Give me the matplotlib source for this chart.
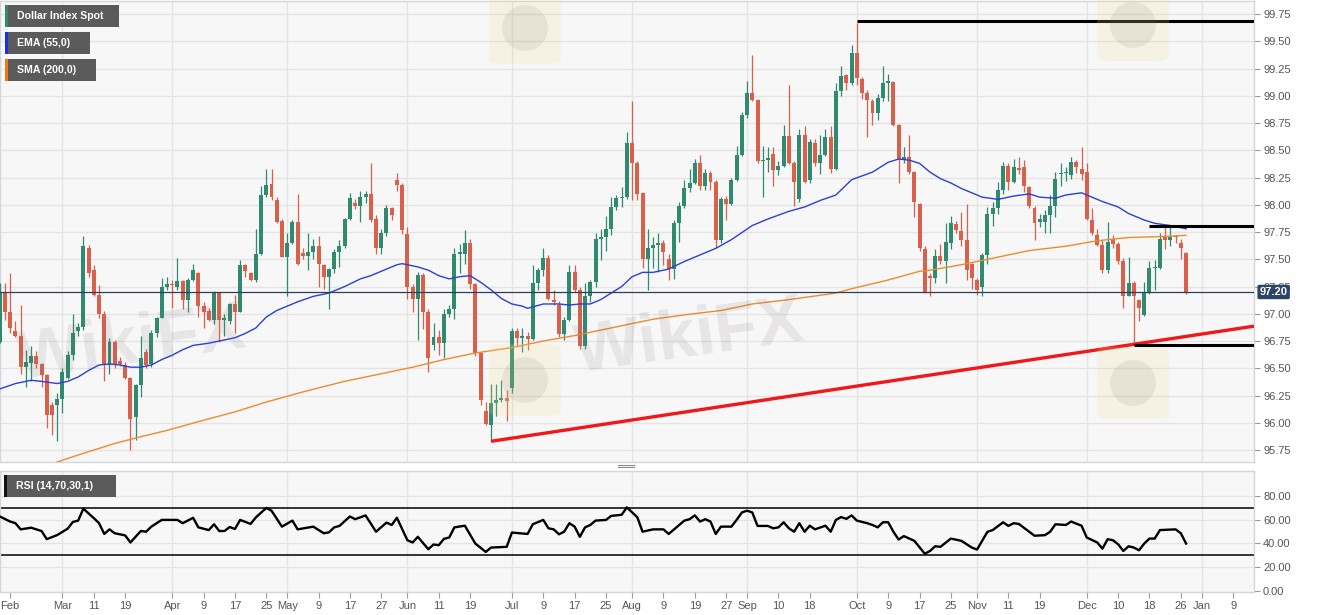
import matplotlib
matplotlib.use('Agg')
import matplotlib.pyplot as plt
import matplotlib.transforms as mtransforms
from matplotlib.patches import Rectangle, FancyBboxPatch, Ellipse
import numpy as np

plt.rcParams['font.family'] = ['Liberation Sans', 'DejaVu Sans']

W, H = 1331, 615

# ---------------- data (daily candles, Feb 13 2019 .. Dec 27 2019) ----------------
opens = [96.74, 97.19, 97.02, 96.84, 96.80, 96.51, 96.55, 96.61, 96.54, 96.44,
         96.16, 96.16, 96.22, 96.41, 96.62, 96.84, 96.88, 97.60, 97.40, 97.17,
         97.00, 96.53, 96.74, 96.57, 96.53, 96.41, 96.05, 96.35, 96.65, 96.54,
         96.82, 96.96, 97.25, 97.27, 97.25, 97.30, 97.13, 97.31, 97.37, 97.07,
         97.03, 96.94, 97.19, 96.94, 96.93, 97.09, 97.02, 97.45, 97.37, 97.31,
         97.55, 98.09, 98.19, 98.04, 97.85, 97.52, 97.65, 97.84, 97.56, 97.53,
         97.57, 97.62, 97.45, 97.34, 97.41, 97.57, 97.62, 97.87, 98.02, 97.99,
         98.07, 98.10, 97.87, 97.60, 97.74, 97.97, 98.23, 98.18, 97.73, 97.25,
         97.14, 97.36, 97.02, 96.71, 96.79, 96.73, 97.00, 97.04, 97.55, 97.55,
         97.65, 97.27, 96.64, 96.11, 95.98, 96.18, 96.21, 96.23, 96.32, 96.84,
         96.78, 96.80, 96.77, 97.28, 97.40, 97.51, 97.13, 97.08, 96.81, 96.94,
         97.38, 97.22, 96.70, 97.16, 97.29, 97.69, 97.70, 97.78, 97.98, 98.06,
         98.07, 98.57, 98.38, 98.11, 97.50, 97.60, 97.63, 97.65, 97.50, 97.41,
         97.83, 97.99, 98.15, 98.20, 98.38, 98.17, 98.29, 98.21, 97.68, 98.05,
         98.01, 98.23, 98.46, 98.82, 99.03, 98.96, 98.40, 98.41, 98.47, 98.32,
         98.36, 98.63, 98.38, 98.05, 98.64, 98.23, 98.57, 98.38, 98.46, 98.62,
         98.33, 99.04, 99.19, 99.12, 99.39, 99.15, 99.03, 98.95, 98.84, 98.98,
         99.12, 99.13, 98.73, 98.41, 98.44, 98.30, 98.01, 97.59, 97.35, 97.33,
         97.53, 97.48, 97.65, 97.82, 97.76, 97.68, 97.46, 97.31, 97.25, 97.54,
         97.92, 97.97, 98.14, 98.36, 98.21, 98.34, 98.35, 98.16, 97.97, 97.84,
         97.84, 97.91, 97.99, 98.28, 98.29, 98.27, 98.39, 98.33, 98.30, 97.86,
         97.72, 97.63, 97.40, 97.69, 97.64, 97.48, 97.16, 97.28, 97.13, 96.99,
         97.19, 97.42, 97.42, 97.71, 97.68, 97.71, 97.65, 97.56]
highs = [97.28, 97.28, 97.37, 96.93, 97.08, 96.67, 96.70, 96.66, 96.55, 96.45,
         96.19, 96.27, 96.50, 96.66, 97.00, 96.92, 97.71, 97.63, 97.45, 97.26,
         97.03, 96.78, 96.76, 96.60, 96.56, 96.42, 96.36, 96.80, 96.68, 96.85,
         96.97, 97.33, 97.34, 97.31, 97.51, 97.31, 97.33, 97.46, 97.38, 97.11,
         97.05, 97.21, 97.20, 97.00, 97.10, 97.17, 97.49, 97.46, 97.38, 97.78,
         98.17, 98.33, 98.33, 98.07, 97.87, 97.74, 97.86, 98.10, 97.60, 97.74,
         97.69, 97.71, 97.46, 97.42, 97.59, 97.68, 97.88, 98.11, 98.05, 98.13,
         98.13, 98.38, 97.91, 97.78, 98.00, 97.98, 98.29, 98.20, 97.80, 97.27,
         97.38, 97.37, 97.04, 96.92, 96.85, 97.04, 97.08, 97.60, 97.64, 97.77,
         97.69, 97.28, 96.65, 96.19, 96.36, 96.36, 96.39, 96.30, 96.87, 96.87,
         96.87, 96.83, 97.45, 97.42, 97.60, 97.54, 97.22, 97.12, 96.97, 97.45,
         97.45, 97.25, 97.28, 97.31, 97.74, 97.78, 97.90, 98.07, 98.09, 98.16,
         98.67, 98.95, 98.40, 98.12, 97.78, 97.70, 97.74, 97.68, 97.55, 97.86,
         98.03, 98.23, 98.33, 98.42, 98.46, 98.33, 98.31, 98.23, 98.07, 98.08,
         98.25, 98.54, 98.85, 99.14, 99.37, 98.97, 98.54, 98.53, 98.53, 98.40,
         98.73, 99.10, 98.40, 98.70, 98.72, 98.60, 98.60, 98.64, 98.70, 98.72,
         99.12, 99.27, 99.20, 99.47, 99.67, 99.17, 99.05, 98.97, 99.02, 99.27,
         99.20, 99.14, 98.74, 98.53, 98.64, 98.31, 98.02, 97.62, 97.37, 97.59,
         97.64, 97.83, 97.90, 97.85, 97.93, 98.01, 97.47, 97.33, 97.56, 97.98,
         98.03, 98.21, 98.39, 98.38, 98.42, 98.44, 98.41, 98.17, 97.99, 97.92,
         97.95, 98.09, 98.30, 98.38, 98.35, 98.44, 98.41, 98.53, 98.38, 97.97,
         97.78, 97.68, 97.84, 97.72, 97.66, 97.51, 97.52, 97.30, 97.14, 97.29,
         97.48, 97.49, 97.74, 97.80, 97.80, 97.72, 97.69, 97.57]
lows = [96.73, 96.94, 96.82, 96.79, 96.45, 96.33, 96.38, 96.50, 96.33, 95.95,
        95.89, 95.83, 96.09, 96.40, 96.58, 96.80, 96.85, 97.34, 97.16, 96.96,
        96.38, 96.45, 96.50, 96.52, 96.40, 95.75, 95.84, 96.24, 96.50, 96.51,
        96.79, 96.96, 97.22, 97.05, 97.22, 97.04, 97.02, 97.30, 96.97, 96.87,
        96.93, 96.91, 96.74, 96.80, 96.91, 96.82, 97.02, 97.34, 97.30, 97.29,
        97.54, 98.07, 98.04, 97.83, 97.52, 97.16, 97.64, 97.45, 97.50, 97.40,
        97.50, 97.25, 97.23, 97.04, 97.37, 97.43, 97.60, 97.86, 97.96, 97.84,
        98.02, 97.84, 97.55, 97.55, 97.71, 97.86, 98.13, 97.73, 97.14, 97.02,
        96.76, 96.86, 96.47, 96.67, 96.62, 96.59, 96.97, 96.95, 97.37, 97.46,
        97.23, 96.61, 96.16, 95.98, 95.83, 96.06, 96.19, 96.02, 96.27, 96.70,
        96.65, 96.67, 96.76, 97.22, 97.35, 97.13, 97.08, 96.79, 96.76, 96.93,
        97.20, 96.68, 96.68, 97.11, 97.25, 97.49, 97.58, 97.72, 97.95, 97.98,
        98.05, 98.04, 98.04, 97.42, 97.22, 97.42, 97.38, 97.45, 97.31, 97.32,
        97.66, 97.97, 98.12, 98.19, 98.14, 98.14, 98.14, 97.60, 97.65, 97.86,
        98.00, 98.22, 98.45, 98.80, 98.95, 98.38, 98.07, 98.30, 98.17, 98.27,
        98.35, 98.37, 97.99, 98.03, 98.20, 98.20, 98.36, 98.28, 98.45, 98.29,
        98.32, 99.00, 99.05, 99.10, 99.10, 98.97, 98.62, 98.73, 98.78, 98.95,
        98.95, 98.72, 98.20, 98.38, 98.28, 97.89, 97.58, 97.19, 97.16, 97.28,
        97.46, 97.28, 97.59, 97.74, 97.62, 97.31, 97.23, 97.17, 97.16, 97.46,
        97.81, 97.92, 98.10, 98.14, 98.20, 98.28, 98.12, 97.97, 97.68, 97.80,
        97.74, 97.74, 97.89, 98.17, 98.22, 98.24, 98.29, 98.23, 97.86, 97.72,
        97.62, 97.37, 97.37, 97.60, 97.46, 97.05, 97.16, 96.72, 96.93, 96.98,
        97.18, 97.22, 97.41, 97.59, 97.62, 97.65, 97.50, 97.18]
closes = [97.19, 97.02, 96.87, 96.80, 96.51, 96.56, 96.61, 96.54, 96.44, 96.07,
          96.07, 96.22, 96.47, 96.62, 96.82, 96.88, 97.62, 97.37, 97.17, 97.00,
          96.53, 96.74, 96.54, 96.54, 96.41, 96.03, 96.35, 96.59, 96.53, 96.82,
          96.96, 97.25, 97.27, 97.26, 97.30, 97.13, 97.31, 97.40, 97.07, 97.02,
          96.94, 97.19, 96.94, 96.96, 97.09, 97.02, 97.45, 97.39, 97.31, 97.55,
          98.09, 98.18, 98.07, 97.84, 97.52, 97.65, 97.84, 97.46, 97.53, 97.57,
          97.62, 97.46, 97.34, 97.41, 97.57, 97.62, 97.87, 98.06, 97.99, 98.07,
          98.10, 97.86, 97.60, 97.74, 97.97, 97.91, 98.18, 97.77, 97.25, 97.14,
          97.36, 97.02, 96.59, 96.79, 96.73, 97.00, 97.04, 97.55, 97.57, 97.65,
          97.27, 96.64, 96.21, 95.99, 96.18, 96.21, 96.23, 96.20, 96.84, 96.78,
          96.80, 96.77, 97.28, 97.40, 97.51, 97.14, 97.11, 96.81, 96.94, 97.38,
          97.22, 96.70, 97.16, 97.29, 97.69, 97.70, 97.78, 97.98, 98.06, 98.07,
          98.57, 98.38, 98.10, 97.50, 97.60, 97.63, 97.65, 97.57, 97.41, 97.83,
          97.99, 98.15, 98.20, 98.38, 98.17, 98.29, 98.21, 97.68, 98.05, 98.01,
          98.23, 98.46, 98.82, 99.03, 98.96, 98.40, 98.41, 98.43, 98.32, 98.36,
          98.63, 98.38, 98.21, 98.64, 98.21, 98.58, 98.38, 98.46, 98.62, 98.33,
          99.04, 99.18, 99.12, 99.39, 99.16, 99.03, 98.96, 98.84, 98.98, 99.12,
          99.13, 98.73, 98.42, 98.44, 98.30, 98.03, 97.60, 97.20, 97.33, 97.53,
          97.48, 97.66, 97.83, 97.77, 97.68, 97.40, 97.33, 97.22, 97.54, 97.92,
          97.97, 98.14, 98.36, 98.21, 98.35, 98.32, 98.17, 97.99, 97.83, 97.87,
          97.91, 97.99, 98.24, 98.29, 98.30, 98.39, 98.35, 98.28, 97.87, 97.74,
          97.63, 97.40, 97.66, 97.64, 97.48, 97.16, 97.28, 97.16, 97.05, 97.19,
          97.42, 97.43, 97.69, 97.68, 97.70, 97.70, 97.60, 97.20]

# EMA(55): (candle index, value)
ema_idx = [0, 3, 6, 8, 11, 13, 15, 17, 19, 21, 23, 25, 27, 29, 31, 33, 35, 37, 40, 42,
           45, 47, 49, 51, 53, 55, 57, 60, 63, 66, 69, 71, 73, 76, 77, 80, 82, 84, 86, 88,
           90, 92, 94, 96, 98, 100, 101, 104, 107, 109, 111, 113, 115, 117, 119, 121, 123,
           125, 128, 131, 135, 137, 140, 144, 147, 151, 154, 157, 160, 163, 167, 170, 172,
           174, 176, 178, 180, 182, 184, 188, 191, 194, 197, 199, 202, 204, 207, 209, 211,
           214, 216, 219, 221, 224, 227]
ema_val = [96.31, 96.36, 96.39, 96.38, 96.36, 96.38, 96.42, 96.48, 96.53, 96.54, 96.53,
           96.51, 96.51, 96.53, 96.58, 96.62, 96.67, 96.71, 96.73, 96.75, 96.78, 96.82,
           96.87, 96.97, 97.03, 97.07, 97.11, 97.16, 97.19, 97.25, 97.32, 97.35, 97.39,
           97.45, 97.46, 97.43, 97.40, 97.35, 97.32, 97.34, 97.35, 97.29, 97.22, 97.14,
           97.09, 97.07, 97.05, 97.09, 97.09, 97.08, 97.09, 97.09, 97.13, 97.19, 97.25,
           97.34, 97.38, 97.38, 97.41, 97.48, 97.56, 97.60, 97.68, 97.81, 97.87, 97.94,
           97.98, 98.04, 98.09, 98.23, 98.30, 98.39, 98.42, 98.41, 98.38, 98.30, 98.24,
           98.20, 98.15, 98.07, 98.05, 98.08, 98.10, 98.07, 98.06, 98.09, 98.11, 98.07,
           98.03, 97.98, 97.92, 97.86, 97.83, 97.81, 97.78]

# SMA(200)
sma_idx = [9, 11, 16, 22, 26, 32, 38, 45, 51, 57, 61, 66, 72, 79, 85, 91, 98, 104, 110,
           117, 122, 125, 131, 138, 144, 151, 157, 160, 163, 170, 176, 178, 184, 191, 197,
           204, 210, 216, 223, 227]
sma_val = [95.60, 95.64, 95.72, 95.81, 95.86, 95.93, 96.01, 96.10, 96.19, 96.27, 96.32,
           96.38, 96.44, 96.51, 96.58, 96.64, 96.69, 96.75, 96.80, 96.87, 96.92, 96.95,
           96.99, 97.03, 97.09, 97.13, 97.17, 97.19, 97.23, 97.31, 97.39, 97.40, 97.45,
           97.52, 97.58, 97.62, 97.67, 97.70, 97.71, 97.72]

# RSI(14)
rsi_idx = [0, 2, 3, 4, 6, 8, 9, 11, 13, 14, 15, 16, 18, 19, 20, 21, 22, 24, 25, 27, 28,
           29, 31, 34, 35, 37, 38, 40, 41, 42, 43, 44, 45, 46, 48, 49, 51, 52, 54, 56, 57,
           60, 62, 63, 64, 65, 67, 68, 70, 72, 74, 75, 76, 78, 79, 80, 82, 83, 84, 85, 86,
           87, 89, 91, 93, 94, 97, 98, 101, 102, 104, 105, 106, 107, 108, 109, 110, 111,
           112, 113, 114, 116, 117, 119, 120, 122, 123, 125, 127, 128, 130, 131, 132, 133,
           134, 135, 136, 137, 138, 140, 141, 142, 143, 144, 145, 147, 148, 149, 150, 151,
           152, 153, 154, 155, 156, 158, 159, 160, 161, 162, 163, 164, 166, 167, 168, 169,
           170, 171, 172, 173, 175, 177, 178, 179, 180, 182, 184, 186, 187, 189, 190, 192,
           193, 194, 195, 198, 200, 201, 202, 204, 205, 207, 208, 210, 211, 212, 213, 214,
           215, 216, 217, 218, 219, 220, 221, 222, 225, 226, 227]
rsi_val = [62.7, 58.4, 57.0, 51.8, 53.2, 50.4, 43.5, 47.0, 52.4, 58.1, 59.2, 69.3, 61.3,
           57.0, 47.9, 51.8, 48.5, 46.7, 40.7, 50.4, 49.8, 54.1, 59.8, 59.8, 57.0, 61.6,
           53.5, 51.2, 56.1, 50.4, 50.4, 53.8, 52.1, 59.8, 56.4, 61.9, 69.9, 67.6, 54.1,
           59.2, 51.8, 54.1, 48.5, 49.3, 53.5, 54.7, 62.7, 60.4, 63.6, 49.8, 57.5, 55.5,
           61.6, 42.6, 40.7, 45.5, 35.0, 39.0, 38.4, 43.8, 44.9, 53.5, 54.9, 39.8, 32.7,
           36.4, 37.0, 49.1, 47.9, 56.1, 59.8, 52.7, 51.8, 47.6, 49.8, 57.0, 54.1, 45.5,
           53.5, 55.5, 59.2, 59.8, 63.2, 64.1, 70.4, 62.0, 49.8, 51.8, 51.8, 47.9, 55.5,
           59.2, 60.4, 63.6, 58.4, 60.4, 58.4, 47.9, 54.1, 54.1, 59.8, 66.1, 67.6, 66.1,
           54.7, 54.7, 52.7, 53.5, 57.8, 52.7, 49.8, 57.0, 49.8, 54.9, 51.8, 54.9, 49.8,
           59.8, 62.2, 60.7, 63.6, 59.2, 57.0, 55.5, 53.5, 57.8, 57.8, 49.8, 43.2, 46.1,
           42.1, 31.2, 33.5, 37.5, 37.0, 44.0, 42.1, 36.4, 34.7, 49.8, 51.2, 57.8, 54.7,
           57.0, 56.4, 46.4, 46.9, 49.8, 56.1, 55.5, 58.4, 54.9, 44.9, 40.7, 35.5, 43.5,
           42.6, 39.2, 33.5, 37.5, 36.4, 34.1, 39.8, 44.0, 44.0, 51.2, 51.8, 48.5, 39.8]

xtick_idx = [2, 12, 18, 24, 33, 39, 45, 51, 55, 61, 67, 73, 78, 84, 90, 98, 104, 110, 116,
             121, 127, 133, 139, 143, 149, 155, 164, 170, 176, 182, 187, 193, 199, 208, 214,
             220, 226, 230, 236]
xtick_lab = ['Feb', 'Mar', '11', '19', 'Apr', '9', '17', '25', 'May', '9', '17', '27', 'Jun',
             '11', '19', 'Jul', '9', '17', '25', 'Aug', '9', '19', '27', 'Sep', '10', '18',
             'Oct', '9', '17', '25', 'Nov', '11', '19', 'Dec', '10', '18', '26', 'Jan', '9']
month_idx = [12, 33, 55, 78, 98, 121, 143, 164, 187, 208, 230]

price_ticks = [95.75, 96.00, 96.25, 96.50, 96.75, 97.00, 97.25, 97.50, 97.75,
               98.00, 98.25, 98.50, 98.75, 99.00, 99.25, 99.50, 99.75]
rsi_ticks = [0, 20, 40, 60, 80]
last_price = 97.20
top_level = 99.69          # resistance line from the Oct 1 high
mid_level = 97.81
low_level = 96.71
trend_a, trend_b = 94, 217  # candles whose lows define the rising trend line

GREEN = '#2f8a70'
RED = '#d9614c'
BG = '#f7f7f7'
GRID = '#e4e4e4'
SPINE = '#d3d6da'
TXT = '#555555'

fig = plt.figure(figsize=(W / 100, H / 100), dpi=100)
fig.patch.set_facecolor('white')

def fx(p): return p / W
def fy(p): return 1 - p / H

ax = fig.add_axes([0, fy(462), 1254 / W, (462 - 1) / H])
rx = fig.add_axes([0, fy(592), 1254 / W, (592 - 470.5) / H])

for a in (ax, rx):
    a.set_facecolor(BG)
    for s in a.spines.values():
        s.set_color(SPINE)
        s.set_linewidth(1.0)
    a.set_xlim(0.048, 240.0)
    for m in month_idx:
        a.axvline(m, color=GRID, lw=1.0, zorder=0)

# ---------------- main price panel ----------------
ax.set_ylim(95.64, 99.87)
for t in price_ticks:
    ax.axhline(t, color=GRID, lw=1.0, zorder=0)

o = np.array(opens); h = np.array(highs); l = np.array(lows); c = np.array(closes)
idx = np.arange(len(c))
cols = np.where(c >= o, GREEN, RED)
ax.vlines(idx, l, h, colors=cols, lw=0.9, zorder=3)
ax.bar(idx, np.maximum(np.abs(c - o), 0.012), bottom=np.minimum(o, c), width=0.76,
       color=cols, edgecolor='none', linewidth=0, zorder=4)

ax.plot(ema_idx, ema_val, color='#2b3fd9', lw=1.0, zorder=5)
ax.plot(sma_idx, sma_val, color='#f08a2c', lw=1.0, zorder=5)

ax.axhline(last_price, color='#2b3f5c', lw=0.9, zorder=5)

# trend line through the June and December lows, extended to the right edge
xa, xb = trend_a, trend_b
ya, yb = lows[xa], lows[xb]
slope = (yb - ya) / (xb - xa)
x_end = 240.0
ax.plot([xa, x_end], [ya, ya + slope * (x_end - xa)], color='#f01818', lw=2.4,
        solid_capstyle='butt', zorder=6)

ax.plot([164, 240], [top_level, top_level], color='black', lw=2.2, solid_capstyle='butt', zorder=6)
ax.plot([220, 240], [mid_level, mid_level], color='black', lw=2.2, solid_capstyle='butt', zorder=6)
ax.plot([217, 240], [low_level, low_level], color='black', lw=2.2, solid_capstyle='butt', zorder=6)

ax.yaxis.tick_right()
ax.set_yticks(price_ticks)
ax.set_yticklabels(['%.2f' % t for t in price_ticks])
ax.tick_params(axis='y', colors='#9a9a9a', labelcolor=TXT, labelsize=8, length=4, pad=2.5, width=0.8)
ax.set_xticks([])

trans = mtransforms.blended_transform_factory(ax.transAxes, ax.transData)
ax.text(1.0045, last_price, '%.2f' % last_price, transform=trans, ha='left', va='center',
        color='white', fontsize=8, fontweight='bold', zorder=20, clip_on=False,
        bbox=dict(boxstyle='round,pad=0.2,rounding_size=0.15', facecolor='#2b4468',
                  edgecolor='none'))

# ---------------- RSI panel ----------------
rx.set_ylim(-1.2, 101.6)
for t in rsi_ticks[1:]:
    rx.axhline(t, color=GRID, lw=1.0, zorder=0)
rx.axhline(70, color='black', lw=1.1, zorder=2)
rx.axhline(30, color='black', lw=1.1, zorder=2)
rx.plot(rsi_idx, rsi_val, color='black', lw=1.7, zorder=4, solid_joinstyle='round')
rx.yaxis.tick_right()
rx.set_yticks(rsi_ticks)
rx.set_yticklabels(['%.2f' % t for t in rsi_ticks])
rx.tick_params(axis='y', colors='#9a9a9a', labelcolor=TXT, labelsize=8, length=4, pad=2.5, width=0.8)
rx.set_xticks(xtick_idx)
rx.set_xticklabels(xtick_lab)
rx.tick_params(axis='x', colors='#9a9a9a', labelcolor=TXT, labelsize=8, length=4, pad=2.5, width=0.8)

# ---------------- legend tags ----------------
def tag(x0, y0, x1, y1, stripe, label):
    fig.add_artist(Rectangle((fx(x0), fy(y1)), fx(x1 - x0), (y1 - y0) / H,
                             transform=fig.transFigure, facecolor='#5b5b5b',
                             edgecolor='none', zorder=30))
    fig.add_artist(Rectangle((fx(x0), fy(y1)), fx(3), (y1 - y0) / H,
                             transform=fig.transFigure, facecolor=stripe,
                             edgecolor='none', zorder=31))
    fig.text(fx(x0 + 12), fy((y0 + y1) / 2), label, color='white', fontsize=7.6,
             fontweight='bold', ha='left', va='center', zorder=32)

tag(5, 5, 119, 27, GREEN, 'Dollar Index Spot')
tag(5, 32, 90, 54, '#1c2fe0', 'EMA (55,0)')
tag(5, 59, 96, 81, '#f07a14', 'SMA (200,0)')
tag(4, 475, 116, 497, '#111111', 'RSI (14,70,30,1)')

# panel splitter handle
for yy in (464.8, 467.4):
    fig.add_artist(plt.Line2D([fx(618), fx(634)], [fy(yy), fy(yy)], color='#8a8a8a',
                              lw=0.8, transform=fig.transFigure, zorder=30))

# ---------------- faint watermarks ----------------
for (cx, cy) in [(525, 28), (525, 380), (1133, 383), (1133, 25)]:
    fig.add_artist(FancyBboxPatch((fx(cx - 36), fy(cy + 36)), fx(72), 72 / H,
                                  boxstyle='round,pad=0,rounding_size=0.008',
                                  transform=fig.transFigure, facecolor='#f2dc8a',
                                  edgecolor='none', alpha=0.18, zorder=25))
    fig.add_artist(Ellipse((fx(cx), fy(cy)), 46 / W, 46 / H, transform=fig.transFigure,
                           facecolor='#7a6f6f', edgecolor='none', alpha=0.12, zorder=25))
for (cx, cy) in [(690, 338), (132, 345)]:
    fig.text(fx(cx), fy(cy), 'WikiFX', color='#7a6f6f', alpha=0.13, fontsize=50,
             fontweight='bold', ha='center', va='center', rotation=8, zorder=26)

fig.savefig('out.png', dpi=100, facecolor='white')
